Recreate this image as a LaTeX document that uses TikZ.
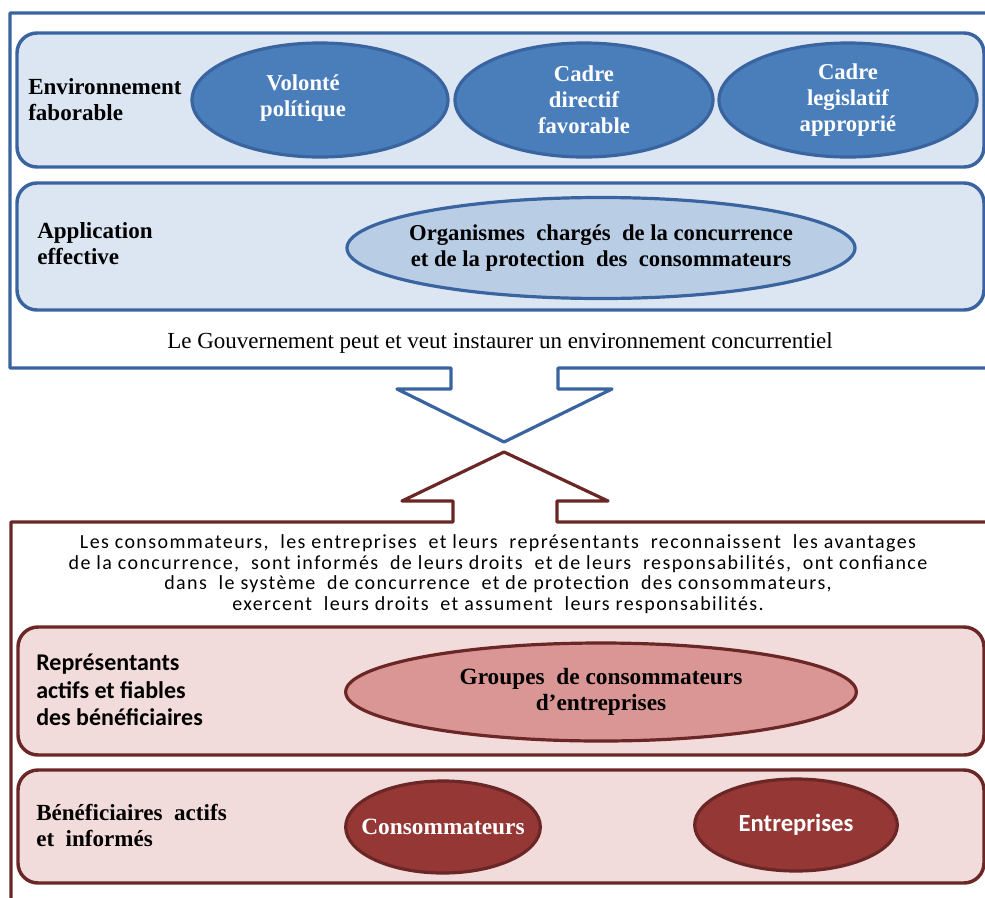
\documentclass[tikz,border=0pt]{standalone}
\usepackage{fontspec}
\setmainfont{Liberation Serif}
\newfontfamily\calib{Carlito}
\newfontfamily\calibls[LetterSpace=7]{Carlito}
\usetikzlibrary{shapes.geometric}
\definecolor{bstroke}{HTML}{3A64A0}
\definecolor{bfill}{HTML}{DCE6F2}
\definecolor{bell}{HTML}{4A7EBB}
\definecolor{bellb}{HTML}{B9CDE5}
\definecolor{rstroke}{HTML}{6B2626}
\definecolor{rfill}{HTML}{F2DCDB}
\definecolor{rell}{HTML}{D99694}
\definecolor{rellb}{HTML}{953735}
\begin{document}
\begin{tikzpicture}[x=0.75pt,y=-0.75pt,
  panelb/.style={draw=bstroke,fill=bfill,line width=2.6pt,rounded corners=15pt},
  panelr/.style={draw=rstroke,fill=rfill,line width=2.6pt,rounded corners=15pt},
  frameb/.style={draw=bstroke,line width=2.4pt,line join=round},
  framer/.style={draw=rstroke,line width=2.4pt,line join=round},
  ellb/.style={ellipse,draw=bstroke,fill=bell,line width=2.4pt,inner sep=0pt,text=white,align=center,font=\fontsize{17}{19.5}\selectfont\bfseries},
  ellbl/.style={ellipse,draw=bstroke,fill=bellb,line width=2.4pt,inner sep=0pt,text=black,align=center,font=\fontsize{17}{19.5}\selectfont\bfseries},
  ellr/.style={ellipse,draw=rstroke,fill=rell,line width=2.4pt,inner sep=0pt,text=black,align=center,font=\fontsize{17.5}{19}\selectfont\bfseries},
  ellrd/.style={ellipse,draw=rstroke,fill=rellb,line width=2.4pt,inner sep=0pt,text=white,align=center,font=\fontsize{17.5}{19}\selectfont\bfseries},
  lblserif/.style={anchor=west,inner sep=0pt,align=left,font=\fontsize{17.3}{19.5}\selectfont\bfseries},
  lblsans/.style={anchor=west,inner sep=0pt,align=left,font=\calib\fontsize{18}{20.5}\selectfont\bfseries},
]
\useasboundingbox (0,0) rectangle (985,897);
% top frame with arrow
\draw[frameb] (995,13) -- (10,13) -- (10,368) -- (451,368) -- (451,389) -- (397,389) -- (504,442) -- (612,389) -- (558,389) -- (558,368) -- (995,368);
% bottom frame with arrow
\draw[framer] (995,522) -- (557,522) -- (557,501) -- (608,501) -- (504,452) -- (402,501) -- (453,501) -- (453,522) -- (11,522) -- (11,910);
% blue panels
\draw[panelb] (17,33) rectangle (984,167);
\draw[panelb] (17,183) rectangle (984,310);
% red panels
\draw[panelr] (18,627) rectangle (984,755);
\draw[panelr] (18,770) rectangle (984,883);

\node[lblserif] (env) at (28,100) {Environnement\\faborable};
\node[ellb,minimum width=192pt,minimum height=85.5pt] (vol) at (320,100) {};
\node[inner sep=0pt,text=white,align=center,font=\fontsize{17}{19.5}\selectfont\bfseries] (voltxt) at (303,98) {Volonté\\polítique};
\node[ellb,minimum width=193.5pt,minimum height=85.5pt] (dir) at (584,100) {Cadre\\directif\\favorable};
\node[ellb,minimum width=193.5pt,minimum height=85.5pt] (leg) at (848,100) {Cadre\\legislatif\\approprié};

\node[lblserif] (app) at (37,244) {Application\\effective};
\node[ellbl,minimum width=381pt,minimum height=75.75pt,inner xsep=-25pt] (org) at (601,248) {Organismes~ chargés~ de la concurrence\\et de la protection~ des~ consommateurs};

\node[inner sep=0pt,font=\fontsize{17.25}{19}\selectfont] (gov) at (500,343) {Le Gouvernement peut et veut instaurer un environnement concurrentiel};

\node[inner sep=0pt,align=center,font=\calibls\fontsize{15}{15.4}\selectfont] (txt) at (498,574) {Les consommateurs,~ les entreprises~ et leurs~ représentants~ reconnaissent~ les avantages\\de la concurrence,~ sont informés~ de leurs droits~ et de leurs~ responsabilités,~ ont confiance\\dans~ le système~ de concurrence~ et de protection~ des consommateurs,\\exercent~ leurs droits~ et assument~ leurs responsabilités.};

\node[lblsans] (rep) at (36,690) {Représentants\\actifs et fiables\\des bénéficiaires};
\node[ellr,minimum width=383pt,minimum height=73.5pt] (grp) at (601,692) {Groupes~ de consommateurs\\d’entreprises};

\node[lblserif] (ben) at (36,825) {Bénéficiaires~ actifs\\et~ informés};
\node[ellrd,minimum width=146pt,minimum height=69pt,inner xsep=-14pt] (cons) at (443,827) {Consommateurs};
\node[ellrd,minimum width=152pt,minimum height=69pt,font=\calib\fontsize{18.5}{19}\selectfont\bfseries] (ent) at (796,825) {Entreprises};
\end{tikzpicture}
\end{document}
